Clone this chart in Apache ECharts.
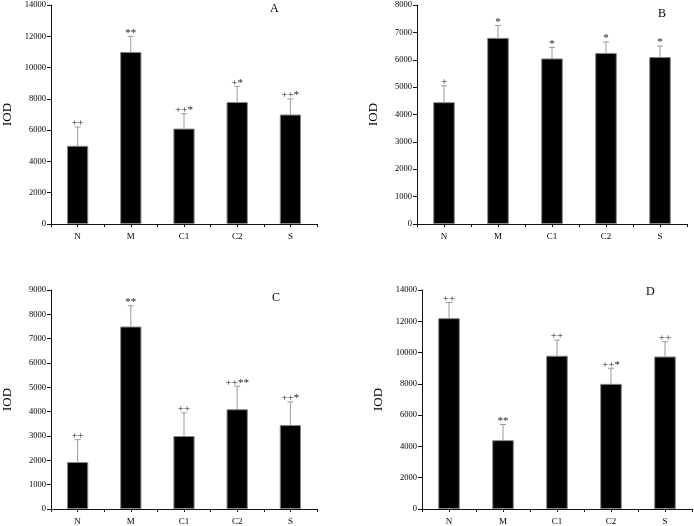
<!DOCTYPE html>
<html><head><meta charset="utf-8">
<script src="https://cdn.jsdelivr.net/npm/echarts@6/dist/echarts.min.js"></script>
<style>html,body{margin:0;padding:0;background:#fff}#c{width:694px;height:526px}</style>
</head><body><div id="c"></div>
<script>
var categories = ['N', 'M', 'C1', 'C2', 'S'];
var panelNames = ['A', 'B', 'C', 'D'];
var yMax = [14000, 8000, 9000, 14000];
var yInterval = [2000, 1000, 1000, 2000];
var valuesA = [5000, 11000, 6100, 7800, 7000];
var errTopA = [6200, 12000, 7050, 8800, 8000];
var marksA = ['++', '**', '++*', '+*', '++*'];
var valuesB = [4450, 6800, 6050, 6250, 6100];
var errTopB = [5050, 7250, 6450, 6650, 6500];
var marksB = ['+', '*', '*', '*', '*'];
var valuesC = [1930, 7500, 3000, 4100, 3450];
var errTopC = [2850, 8350, 3950, 5050, 4400];
var marksC = ['++', '**', '++', '++**', '++*'];
var valuesD = [12200, 4400, 9800, 8000, 9750];
var errTopD = [13200, 5400, 10800, 9000, 10700];
var marksD = ['++', '**', '++', '++*', '++'];

var values = [valuesA, valuesB, valuesC, valuesD];
var errTops = [errTopA, errTopB, errTopC, errTopD];
var marks = [marksA, marksB, marksC, marksD];

var gridPos = [
  {left: 47, top: 5, right: 377, bottom: 302},
  {left: 417, top: 5, right: 7, bottom: 302},
  {left: 47, top: 290, right: 377, bottom: 16},
  {left: 422, top: 290, right: 2, bottom: 16}
];
var letterPos = [[274, 9], [662, 14], [276, 298], [650, 292]];
var FONT = '"Liberation Serif", "DejaVu Serif", serif';

var grid = [], xAxis = [], yAxis = [], series = [], graphic = [];
for (var p = 0; p < 4; p++) {
  grid.push(Object.assign({containLabel: false}, gridPos[p]));
  xAxis.push({
    type: 'category', gridIndex: p, data: categories,
    axisLine: {lineStyle: {color: '#111', width: 1}},
    axisTick: {show: true, alignWithLabel: false, length: 3, lineStyle: {color: '#111'}},
    axisLabel: {fontFamily: FONT, fontSize: 9, color: '#000', margin: 8},
    splitLine: {show: false}
  });
  xAxis.push({
    type: 'category', gridIndex: p, data: categories, position: 'bottom',
    axisLine: {show: false},
    axisTick: {show: true, alignWithLabel: true, length: 3, lineStyle: {color: '#111'}},
    axisLabel: {show: false}, splitLine: {show: false}
  });
  yAxis.push({
    type: 'value', gridIndex: p, min: 0, max: yMax[p], interval: yInterval[p],
    name: 'IOD', nameLocation: 'middle', nameGap: 37,
    nameTextStyle: {fontFamily: FONT, fontSize: 13, color: '#000'},
    axisLine: {show: true, lineStyle: {color: '#111', width: 1}},
    axisTick: {show: true, length: 4, lineStyle: {color: '#111'}},
    axisLabel: {fontFamily: FONT, fontSize: 8.5, color: '#000', margin: 5,
      formatter: function (v) { return String(v); }},
    splitLine: {show: false}
  });
  series.push({
    type: 'bar', xAxisIndex: p * 2, yAxisIndex: p, data: values[p],
    barWidth: '40%',
    itemStyle: {color: '#000', borderColor: '#888', borderWidth: 1},
    silent: true, animation: false
  });
  (function (pi) {
    var dataErr = errTops[pi].map(function (v, i) { return [i, values[pi][i], v]; });
    series.push({
      type: 'custom', xAxisIndex: pi * 2, yAxisIndex: pi, data: dataErr,
      animation: false, silent: true,
      renderItem: function (params, api) {
        var base = api.coord([api.value(0), api.value(1)]);
        var top = api.coord([api.value(0), api.value(2)]);
        var label = marks[pi][params.dataIndex];
        return {
          type: 'group',
          children: [
            {type: 'line', shape: {x1: base[0], y1: base[1], x2: top[0], y2: top[1]},
             style: {stroke: '#999', lineWidth: 1}},
            {type: 'line', shape: {x1: top[0] - 3, y1: top[1], x2: top[0] + 3, y2: top[1]},
             style: {stroke: '#999', lineWidth: 1}},
            {type: 'text', style: {text: label, x: top[0], y: top[1] + 2,
              textAlign: 'center', textVerticalAlign: 'bottom',
              font: '11px ' + FONT, fill: '#222'}}
          ]
        };
      }
    });
  })(p);
  graphic.push({type: 'text', left: letterPos[p][0] - 4, top: letterPos[p][1] - 6,
    style: {text: panelNames[p], font: '12px ' + FONT, fill: '#000'}});
}

var chart = echarts.init(document.getElementById('c'));
chart.setOption({
  backgroundColor: '#fff', animation: false,
  grid: grid, xAxis: xAxis, yAxis: yAxis, series: series, graphic: graphic
});
</script></body></html>
